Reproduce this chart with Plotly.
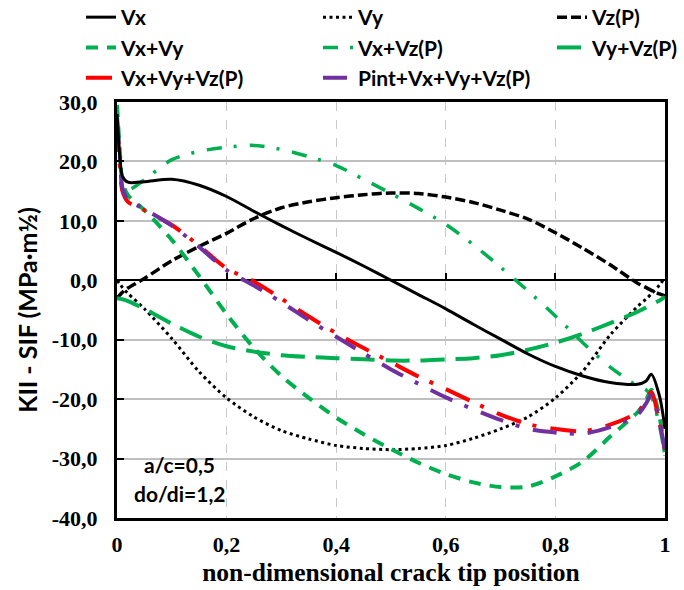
import plotly.graph_objects as go

# crack tip position (non-dimensional)
x_pos = [0, 0.005, 0.01, 0.02, 0.05, 0.1, 0.15, 0.2, 0.25, 0.3, 0.35, 0.4, 0.45, 0.5,
         0.55, 0.6, 0.65, 0.7, 0.75, 0.8, 0.85, 0.9, 0.95, 0.965, 0.975, 0.99, 1.0]

vx = [28, 21, 17.5, 16.5, 16.6, 17.0, 16.0, 14.1, 11.6, 9.2, 6.9, 4.7, 2.4, 0.0,
      -2.4, -4.8, -7.4, -9.9, -12.4, -14.5, -16.1, -17.2, -17.5, -17.0, -15.8, -19.5, -25]
vy = [0, -0.6, -1.2, -2.2, -4.8, -9.8, -15.4, -19.8, -23.0, -25.3, -26.7, -27.8, -28.3, -28.5,
      -28.3, -27.8, -26.6, -25.0, -23.0, -19.8, -15.3, -9.2, -4.4, -3.2, -2.3, -0.8, 0.5]
vz = [-3.0, -2.5, -2.0, -1.3, 0.3, 3.3, 5.7, 7.9, 10.4, 12.2, 13.2, 13.9, 14.4, 14.7,
      14.6, 14.0, 13.1, 11.8, 10.3, 8.0, 5.4, 2.6, -0.5, -1.2, -1.7, -2.3, -2.6]
vx_vy = [29.5, 22, 16.5, 14.3, 11.8, 6.8, 0.7, -5.7, -11.4, -16.1, -19.8, -23.1, -25.9, -28.4,
         -30.7, -32.6, -34.0, -34.8, -34.7, -33.0, -30.5, -26.3, -22.2, -20.3, -18.4, -23, -29.5]
vx_vz = [28.5, 21, 16, 15.2, 16.9, 20.3, 21.7, 22.4, 22.7, 22.0, 20.8, 19.3, 17.0, 14.6,
         12.1, 9.4, 6.0, 2.2, -1.8, -6.0, -10.5, -14.6, -17.8, -18.4, -19.5, -24.5, -29.5]
vy_vz = [-3.0, -3.1, -3.2, -3.5, -4.8, -7.3, -9.5, -11.1, -12.0, -12.6, -12.9, -13.1, -13.3, -13.5,
         -13.5, -13.3, -13.1, -12.6, -11.7, -10.5, -9.0, -7.2, -5.3, -4.6, -4.1, -3.4, -2.8]
vx_vy_vz = [26, 19.5, 15, 13.2, 11.8, 9.3, 5.8, 2.0, -0.2, -3.1, -6.1, -8.9, -11.4, -13.8,
            -16.2, -18.3, -20.5, -22.6, -24.2, -25.0, -25.4, -24.3, -22.2, -20.3, -18.8, -24, -28.5]
pint_all = [27, 21, 15.5, 13.5, 12.0, 9.2, 5.6, 1.7, -0.9, -3.7, -6.7, -9.5, -12.3, -15.0,
            -17.4, -19.7, -21.7, -23.5, -25.0, -25.6, -25.8, -24.7, -22.6, -20.8, -19.3, -24, -28.5]

y_ticks = [30, 20, 10, 0, -10, -20, -30, -40]
y_ticklabels = ["30,0", "20,0", "10,0", "0,0", "-10,0", "-20,0", "-30,0", "-40,0"]
x_ticks = [0, 0.2, 0.4, 0.6, 0.8, 1]
x_ticklabels = ["0", "0,2", "0,4", "0,6", "0,8", "1"]

GREEN = "#00B050"
series = [
    ("Vx", vx, "black", 3, "solid", "legend", "x2"),
    ("Vy", vy, "black", 3, "3px,3.5px", "legend2", "x"),
    ("Vz(P)", vz, "black", 3.5, "10px,4px", "legend3", "x"),
    ("Vx+Vy", vx_vy, GREEN, 4, "12px,9px", "legend", "x"),
    ("Vx+Vz(P)", vx_vz, GREEN, 3.5, "15px,12px,3px,13px", "legend2", "x"),
    ("Vy+Vz(P)", vy_vz, GREEN, 4, "24px,11px", "legend3", "x"),
    ("Vx+Vy+Vz(P)", vx_vy_vz, "#FF0000", 4, "26px,12px,4px,14px", "legend", "x"),
    ("Pint+Vx+Vy+Vz(P)", pint_all, "#7030A0", 4, "24px,13px,4px,14px", "legend2", "x"),
]

fig = go.Figure()
for name, ys, col, w, dash, leg, xa in series:
    fig.add_trace(go.Scatter(x=x_pos, y=ys, name=name, mode="lines", xaxis=xa,
                             line=dict(color=col, width=w, dash=dash, shape="spline", smoothing=0.8),
                             legend=leg))

PL, PR, PT, PB = 117, 665, 102, 518
legfont = dict(family="Lato", size=21, color="black", weight="bold")
def leg(xpx):
    return dict(xref="paper", yref="paper", x=(xpx - PL) / (PR - PL), y=(PB + 3) / (PB - PT),
                xanchor="left", yanchor="top", bgcolor="rgba(0,0,0,0)", font=legfont,
                tracegroupgap=0)

serif_b = dict(family="Liberation Serif", size=22, color="black", weight="bold")

fig.update_layout(
    width=684, height=590,
    margin=dict(l=PL, r=684 - PR, t=PT, b=590 - PB, autoexpand=False),
    plot_bgcolor="white", paper_bgcolor="white",
    legend=leg(81), legend2=leg(318), legend3=leg(552),
    xaxis=dict(range=[0, 1], tickvals=x_ticks, ticktext=x_ticklabels, showgrid=True,
               gridcolor="#C8C8C8", griddash="dash", gridwidth=1, showline=True,
               linecolor="black", linewidth=3, mirror=True, ticks="", zeroline=False,
               tickfont=serif_b, ticklabelstandoff=5,
               title=dict(text="non-dimensional crack tip position",
                          font=dict(family="Liberation Serif", size=25.5, color="black", weight="bold"),
                          standoff=7)),
    xaxis2=dict(overlaying="x", anchor="free", position=40 / 70, range=[0, 1],
                tickvals=x_ticks, ticks="inside", ticklen=7, tickwidth=2, tickcolor="black",
                showticklabels=False, showgrid=False, showline=False, zeroline=False),
    yaxis=dict(range=[-40, 30], tickvals=y_ticks, ticktext=y_ticklabels, showgrid=True,
               gridcolor="#BFBFBF", gridwidth=1.5, showline=True, linecolor="black",
               linewidth=3, mirror=True, ticks="inside", ticklen=7, tickwidth=2,
               tickcolor="black", zeroline=True, zerolinecolor="black", zerolinewidth=2,
               tickfont=serif_b, ticklabelstandoff=12,
               title=dict(text="KII - SIF (MPa·m½)",
                          font=dict(family="Lato", size=25, color="black", weight="bold"),
                          standoff=8)),
    annotations=[
        dict(x=0.114, y=-31.0, xref="x", yref="y", text="a/c=0,5", showarrow=False,
             font=dict(family="Lato", size=21, color="black", weight="bold")),
        dict(x=0.114, y=-35.9, xref="x", yref="y", text="do/di=1,2", showarrow=False,
             font=dict(family="Lato", size=21, color="black", weight="bold")),
    ],
)

fig.write_html("out.html", config={"displayModeBar": False},
               post_script="document.body.style.margin='0';document.body.style.padding='0';")
